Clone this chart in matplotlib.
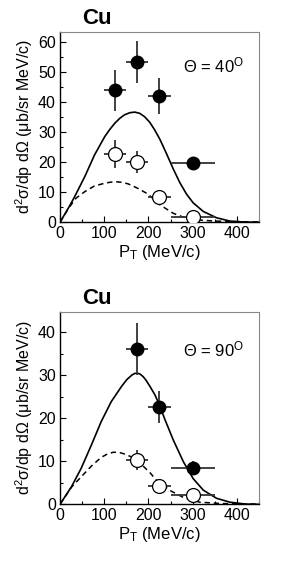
import numpy as np
import matplotlib.pyplot as plt

plt.rcParams['font.family'] = ['Liberation Sans', 'DejaVu Sans']
plt.rcParams['mathtext.fontset'] = 'custom'
plt.rcParams['mathtext.rm'] = 'Liberation Sans'
plt.rcParams['mathtext.it'] = 'Liberation Sans:italic'

# --- 40 degrees ---
pt_40 = [125, 175, 225, 300]
pt_err_40 = [25, 25, 25, 50]
full_40 = [43.9, 53.3, 42.1, 19.9]
full_err_40 = [6.7, 7.0, 6.0, 1.5]
open_40 = [22.8, 20.1, 8.3, 1.9]
open_err_40 = [4.7, 3.7, 2.0, 1.0]

solid_x_40 = [0, 20, 33, 56, 78, 101, 113, 124, 135, 146, 158, 169, 180, 191, 203, 214,
              226, 241, 256, 271, 286, 301, 324, 354, 384, 420, 450]
solid_y_40 = [0, 5.0, 8.5, 15.2, 22.4, 28.5, 31.0, 33.0, 34.6, 35.8, 36.5, 36.7, 36.3,
              35.2, 33.3, 30.8, 27.6, 22.8, 17.8, 13.2, 9.4, 6.5, 3.6, 1.5, 0.4, 0.05, 0]
dash_x_40 = [0, 20, 36, 56, 78, 101, 114, 127, 140, 154, 176, 199, 226, 256, 279, 310,
             350, 400, 450]
dash_y_40 = [0, 4.8, 8.0, 10.2, 12.1, 13.0, 13.35, 13.5, 13.3, 12.8, 11.3, 9.4, 5.8,
             3.0, 1.7, 0.8, 0.4, 0.2, 0.1]

# --- 90 degrees ---
pt_90 = [175, 225, 300]
pt_err_90 = [25, 25, 50]
full_90 = [36.1, 22.6, 8.5]
full_err_90 = [6.0, 3.8, 1.5]
open_90 = [10.3, 4.3, 2.2]
open_err_90 = [2.3, 1.5, 1.0]

solid_x_90 = [0, 26, 48, 71, 93, 116, 139, 151, 163, 169, 175, 181, 188, 195, 203, 215,
              226, 237, 256, 279, 301, 324, 354, 384, 420, 450]
solid_y_90 = [0, 4.1, 8.4, 13.8, 19.2, 23.9, 27.4, 29.0, 30.1, 30.45, 30.5, 30.3, 29.7,
              28.8, 27.5, 25.4, 22.8, 19.8, 15.0, 9.9, 6.0, 3.3, 1.4, 0.5, 0.05, 0]
dash_x_90 = [0, 26, 48, 71, 93, 107, 120, 133, 146, 169, 191, 204, 218, 249, 279, 316,
             360, 400, 450]
dash_y_90 = [0, 4.0, 6.4, 8.9, 10.9, 11.7, 12.1, 12.1, 11.7, 10.7, 8.6, 7.3, 5.6, 3.2,
             1.6, 0.5, 0.2, 0.1, 0.05]

panels = [
    (pt_40, pt_err_40, full_40, full_err_40, open_40, open_err_40,
     solid_x_40, solid_y_40, dash_x_40, dash_y_40, 63.5, 10, '40', 50.0),
    (pt_90, pt_err_90, full_90, full_err_90, open_90, open_err_90,
     solid_x_90, solid_y_90, dash_x_90, dash_y_90, 44.8, 10, '90', 34.5),
]

fig = plt.figure(figsize=(2.91, 5.65), dpi=100)
rects = [[0.2062, 0.6066, 0.6838, 0.3374], [0.2062, 0.1074, 0.6838, 0.3409]]

for rect, p in zip(rects, panels):
    (px, pxe, fy, fye, oy, oye, sx, sy, dx, dy, ytop, ystep, ang, ty) = p
    ax = fig.add_axes(rect)
    ax.plot(sx, sy, color='black', lw=1.2)
    ax.plot(dx, dy, color='black', lw=1.1, dashes=(3.5, 2.5))
    ax.errorbar(px, oy, xerr=pxe, yerr=oye, fmt='o', ms=10, mfc='white', mec='black',
                mew=0.9, ecolor='#333333', elinewidth=1.3, capsize=0, zorder=3)
    ax.errorbar(px, fy, xerr=pxe, yerr=fye, fmt='o', ms=9, mfc='black', mec='black',
                ecolor='#333333', elinewidth=1.3, capsize=0, zorder=4)
    ax.set_xlim(0, 450)
    ax.set_ylim(0, ytop)
    ax.set_xticks([0, 100, 200, 300, 400])
    ax.set_xticks(np.arange(0, 451, 50), minor=True)
    ax.set_yticks(np.arange(0, ytop, ystep))
    ax.set_yticks(np.arange(0, ytop, ystep / 2), minor=True)
    ax.tick_params(direction='in', which='major', length=4, width=0.8, labelsize=11.5, pad=3)
    ax.tick_params(direction='in', which='minor', length=2.5, width=0.8)
    for s in ['top', 'right']:
        ax.spines[s].set_color('#888888')
    for s in ['left', 'bottom']:
        ax.spines[s].set_linewidth(1.0)
    ax.set_xlabel('P$_\\mathrm{T}$ (MeV/c)', fontsize=12, labelpad=1)
    ax.set_ylabel('d$^\\mathrm{2}$σ/dp dΩ (μb/sr MeV/c)', fontsize=11.5, labelpad=2)
    ax.text(0.11, 1.015, 'Cu', transform=ax.transAxes, fontsize=16, fontweight='bold',
            va='bottom', ha='left')
    ax.text(278, ty, 'Θ = ' + ang + '$^\\mathrm{O}$', fontsize=12, va='baseline')

fig.savefig('out.png', dpi=100)
